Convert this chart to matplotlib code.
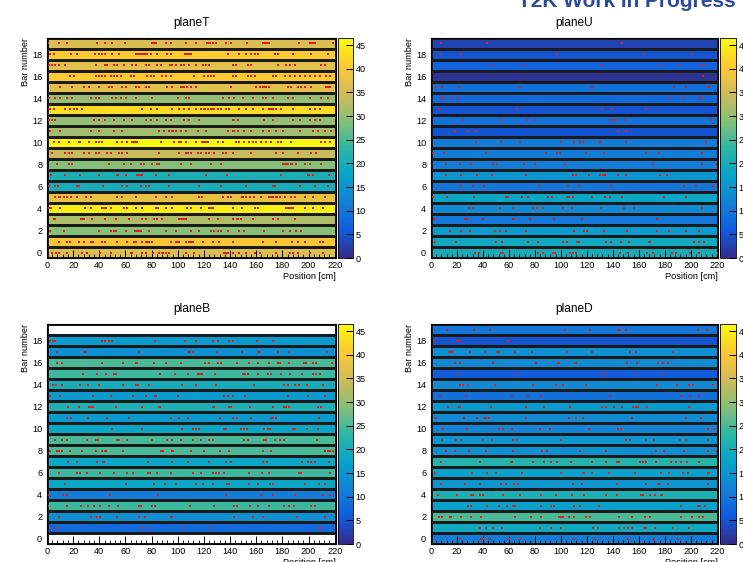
import numpy as np
import matplotlib
matplotlib.use("Agg")
import matplotlib.pyplot as plt
from matplotlib.colors import LinearSegmentedColormap, Normalize
from matplotlib.ticker import MultipleLocator

plt.rcParams['font.family'] = ['Liberation Sans', 'DejaVu Sans']

# ROOT "kBird" palette
stops = [0.0, 0.125, 0.25, 0.375, 0.5, 0.625, 0.75, 0.875, 1.0]
red = [0.2082, 0.0592, 0.0780, 0.0232, 0.1802, 0.5301, 0.8186, 0.9956, 0.9764]
green = [0.1664, 0.3599, 0.5041, 0.6419, 0.7178, 0.7492, 0.7328, 0.7862, 0.9832]
blue = [0.5293, 0.8684, 0.8385, 0.7914, 0.6425, 0.4662, 0.3499, 0.1968, 0.0539]
bird = LinearSegmentedColormap.from_list(
    "bird", [(s, (r, g, b)) for s, r, g, b in zip(stops, red, green, blue)])

n_bars = 20
x_max = 221.0
z_max = 46.5

# Hit positions [cm] per bar, bar 0 first
hits_T = [
    [3.8, 6.9, 9.5, 15.3, 26.9, 30.7, 40.9, 48.6, 63.9, 65.2, 72.9, 75.5, 81.1, 85.7, 88.3, 90.8, 93.4, 106.2, 112.6,
     135.6, 138.2, 142, 147.1, 152.2, 158.7, 162.5, 175.3, 185.5, 188.1, 191.9, 200.9, 211.2, 89, 137, 186, 65],
    [9, 15.3, 17.9, 24.3, 28.1, 33.3, 35.1, 41.7, 44.3, 53.7, 61.4, 66.5, 68.3, 72.9, 75.5, 78, 80.6, 94.7, 98.5, 101,
     106.2, 108.7, 111.3, 119, 126.6, 131.8, 142, 165, 175.3, 187.5, 191.9, 197.1, 208.6, 211.2, 34, 67, 77, 100, 110, 192],
    [2.6, 12.8, 39.7, 48.6, 51.2, 52.4, 60.1, 67.3, 69.1, 70.4, 71.6, 78, 90.8, 98.5, 110, 116.4, 125.4, 127.9, 130.5,
     133, 138.2, 147.1, 150.9, 166.3, 180.4, 185.5, 190.6, 194.4, 70],
    [5.1, 6.4, 26.3, 28.1, 34.5, 44.7, 52.4, 62.7, 72.9, 75.5, 81.9, 84.4, 88.3, 101, 103.6, 106.2, 124.1, 130.5, 142,
     145.1, 148.4, 157.4, 172.7, 176.6, 189.4, 27, 73, 102, 105, 146, 173, 6],
    [1.3, 3.3, 10.2, 28.9, 33.3, 42.2, 44.3, 45.3, 48.6, 58.8, 61.4, 67.8, 72.9, 83.1, 85.2, 90.8, 95.9, 107.4, 110,
     117.7, 123.6, 124.6, 126.6, 142, 149.1, 158.7, 161.2, 182.9, 184, 186, 188, 197.1, 203.4, 211,
     2, 43, 44, 84, 124, 125, 183, 185, 187, 43.5, 125.5],
    [5.9, 9, 12.8, 15.3, 18.7, 23, 29.9, 34, 53.7, 57, 67.8, 83.1, 90.8, 95.9, 115.9, 118.4, 134.3, 138.2, 140.7, 149.1,
     152.2, 155.2, 158.5, 163.7, 170.1, 172.7, 175.3, 177.8, 181.7, 186.8, 189.4, 197.1, 203.4, 212.3, 10, 171, 176, 150],
    [1.8, 5.9, 8.4, 23, 24.3, 42.7, 57.6, 61.4, 71.6, 75.5, 78, 93.4, 116.4, 133, 152.2, 173.2, 174.5, 193.2, 204.7, 214.9],
    [3.3, 14.1, 25.1, 39.7, 53.7, 60.1, 69.1, 70.4, 72.9, 83.1, 93.4, 121.5, 137.6, 179.1, 199.6, 203.4, 215.7,
     71, 70, 200, 54],
    [7.7, 16.6, 19.2, 47.3, 58.8, 63.9, 71.6, 74.2, 80.6, 84.4, 85.7, 102.3, 110, 125.4, 133, 180.4, 183, 186.8, 190.6,
     197, 200.9, 209.8, 17, 72, 85, 181, 184, 187, 201],
    [3.8, 14.1, 16.6, 19.2, 28.1, 32, 37.1, 39.6, 46, 48.6, 55, 57.6, 61.4, 85.7, 101, 106.2, 107.4, 110, 115.1, 117.7,
     121.5, 124.1, 127.9, 134.3, 136.9, 142, 156.1, 175.3, 180.4, 191.9, 202.1, 205.9, 17, 108],
    [5.1, 9, 16.6, 24.3, 25.6, 32, 37.1, 39.6, 42.2, 53.7, 57.6, 61.4, 65.2, 66.5, 67.8, 69.1, 87, 97.2, 101, 102.3,
     106.2, 113.8, 118.9, 120.2, 121.5, 122.8, 130.5, 134.3, 144.5, 147.1, 150.9, 154.8, 157.3, 159.9, 163.7, 167.6,
     171.4, 176.6, 179.1, 186.8, 209.8, 212.4, 216.2, 66, 121, 25],
    [2.6, 10.2, 33.3, 39.7, 51.2, 57.6, 85.7, 89.6, 93.4, 95.9, 98.5, 102.3, 106.2, 115.1, 121.5, 138.2, 142, 145.8,
     150.9, 156.1, 165, 170.1, 175.3, 180.4, 193.2, 203.4, 207.2, 212.3, 217.4, 96, 143],
    [1.3, 3.8, 6.4, 35.8, 39.7, 44.3, 51.2, 58.8, 65.2, 75.5, 79.3, 84.4, 90.8, 94.7, 104.9, 108.7, 116.4, 142, 145.8,
     166.3, 172.7, 188.1, 193.2, 200.9, 204.7, 208.6, 40, 105, 143, 201],
    [1.3, 2.6, 5.1, 14.1, 17.9, 20.5, 23, 26.9, 72.9, 79.3, 84.4, 95.9, 101, 104.9, 108.7, 113.8, 117.7, 120.2, 122.8,
     125.4, 127.9, 130.5, 133, 136.9, 139.4, 147.1, 152.3, 157.4, 165, 170.1, 172.7, 175.3, 179.1, 188.1, 200.9, 204.7,
     208.6, 2, 21, 121, 126, 171, 205],
    [1.3, 6.4, 10.2, 15.3, 19.2, 33.3, 37.1, 39.6, 49.9, 52.4, 56.3, 60.1, 67.8, 80.6, 99.8, 106.2, 108.7, 134.3,
     139.4, 143.3, 149.7, 157.3, 165, 167.6, 172.7, 184.2, 188, 200.9, 209.8, 214.9],
    [10.2, 19.2, 28.1, 32, 39.7, 47.3, 49.9, 57.6, 60.1, 67.8, 70.4, 75.5, 78, 92.1, 95.9, 102.3, 104.9, 107.4, 110,
     113.8, 140.7, 159.9, 162.5, 165, 167.6, 170.1, 184.2, 186.8, 191.9, 194.4, 197, 202.1, 213.6, 216.2, 103, 166, 215],
    [17.9, 20.5, 37.1, 39.6, 42.2, 44.7, 48.6, 51.2, 53.7, 56.3, 63.9, 66.5, 76.7, 79.3, 81.9, 88.3, 90.8, 94.7, 112.6,
     120.2, 122.8, 125.4, 127.9, 142, 144.6, 153.5, 156.1, 158.7, 172.7, 175.3, 181.7, 185.6, 189.4, 193.2, 197.1,
     200.9, 204.7, 208.6, 213.7, 216.3, 123],
    [1.3, 3.8, 6.4, 9, 14.1, 37.1, 44.3, 46, 51.2, 53.7, 58.8, 65.2, 67.8, 75.5, 78, 84.4, 87, 93.9, 95.9, 98.5, 102.3,
     104.9, 108.7, 113.8, 119, 124.1, 142, 144.6, 153.5, 156.1, 176.6, 183, 185.6, 189.4, 209.8, 212.4, 121.5],
    [2.6, 5.1, 18.7, 23, 37, 39.6, 42.2, 44.7, 49.9, 55, 67.8, 69, 70.4, 71.6, 72.9, 74.2, 75.5, 76.7, 79.3, 84.4,
     92.1, 94.7, 105.6, 107.4, 108.7, 110, 138.2, 147.1, 152.3, 156.1, 158.7, 161.2, 174, 176.6, 188.1, 202, 214.9,
     70, 73, 75, 108],
    [1, 9, 15, 38, 44, 50, 60, 80, 81, 82, 83, 91, 95, 106, 114, 122, 124, 125, 127, 129, 137, 141, 153, 165, 167, 170,
     193, 201, 203, 204, 205, 219, 81, 124, 168, 202],
]

hits_U = [
    [33.5, 37.1, 54, 55.8, 82.6, 86.5, 94.1, 95.4, 107.4, 109, 111.5, 145.8, 151.7, 166.5, 170.9, 185.7, 188.8, 199.8,
     206.7, 220.8],
    [3.3, 19.4, 49.9, 54.5, 74.4, 82.1, 101.3, 105.1, 112.8, 113.8, 135.1, 138.4, 146.1, 152.2, 167.8, 168.6, 202.9,
     206.2, 210.5],
    [14.3, 23, 29.7, 49.6, 53.5, 57.8, 72.9, 110, 117.7, 120.2, 133, 151.2, 174.2, 183.2, 196, 206.7],
    [2, 26.3, 28.1, 39.9, 62.9, 64.2, 76.2, 94.9, 115.9, 174],
    [28.9, 32.7, 53.2, 62.9, 78.8, 81.3, 86, 101.3, 108.7, 130.7, 148.4, 156.6, 208.7],
    [1.5, 12.3, 33.3, 57.8, 59.1, 70.3, 74.9, 89.8, 92.9, 105.1, 106.4, 109, 123.8, 134.3, 137.6, 146.8, 179.3, 196],
    [23, 32.7, 40.7, 83.4, 105.7, 113.8, 138.9, 195.2, 204.1, 216.9],
    [11.8, 23, 35.3, 46.8, 72.9, 109.5, 112, 121.5, 130.5, 132.5, 133.8, 144.1, 150.4, 176.5, 181.9],
    [11.5, 22.5, 30.7, 47.6, 51.2, 71.6, 80.1, 103.1, 170.9, 208.5, 219.5],
    [1.5, 9.7, 42.5, 88.5, 96.7, 99.3, 119.2, 133, 165.8, 175.5, 208.7],
    [34.5, 53.7, 68.6, 100, 110.3, 114.6, 116.7, 130, 131.2, 149.9, 211.8],
    [18.7, 28.4, 34.5, 144.3, 149.9],
    [24.8, 54, 73.7, 80.1, 138.1, 140.7, 142.2, 149.1, 215.9],
    [6.4, 66, 131.7, 139.7, 165.8],
    [7.9, 9.7, 15.6, 20.7, 184.4, 193.9, 207.2, 208.5],
    [3.8, 8.4, 21.7, 68.3, 124.1, 187, 196.7, 213.1, 214.4],
    [209.3],
    [47.3, 71.4, 131.2, 176, 191.9, 207.2, 210.5],
    [6.6, 23, 96.7, 163.7, 200.8],
    [7.7, 43, 147.1],
]

hits_B = [
    [],
    [5.1, 9, 71.6, 78.5, 105.6, 125.4, 208, 209.8],
    [9.5, 34, 38.4, 40.9, 53.7, 70.4, 75, 94.7, 95.9, 143.3, 157.4, 165, 191.4, 212.3],
    [0.8, 15.3, 26.3, 31.5, 35.8, 40.9, 47.3, 54.5, 70.4, 71.6, 80.1, 82.6, 109.2, 127.9, 143.3, 145, 155.3, 161.2,
     169.6, 181.6, 185, 188.6, 202.1, 204.7],
    [1.3, 12, 15.3, 48.1, 85.2, 136.9, 163.7, 172.7, 189.8, 211, 216.2],
    [0, 14.1, 60.1, 81.9, 90.3, 98.5, 113.8, 119.5, 126.6, 137.4, 138.9, 154.8, 161.2, 170.6, 172.7, 197, 208, 212.3],
    [9, 23, 25.6, 30.7, 40.2, 51.2, 61.4, 65.7, 77.5, 78.5, 84.4, 94.7, 111.8, 117.7, 127.1, 129.2, 131.2, 135.6,
     154.3, 164.5, 169.6, 192.6, 194.4, 216.7],
    [16.1, 23, 38.4, 42.7, 43.5, 77.5, 95.9, 108.2, 123.6, 136.9, 140.7, 165, 168.1, 195.2, 199.5, 202.1, 204.7, 215.7],
    [2.6, 7.7, 9, 11.5, 17.9, 26.9, 37.6, 42.2, 44.3, 45.3, 58.1, 87, 88.8, 95.4, 96.4, 110, 120.2, 132.3, 139.4,
     165.5, 171.4, 212.3, 214.9, 216.7, 218.7],
    [6.4, 11.5, 15.3, 30.7, 37.1, 39.1, 53.7, 55, 61.4, 80.6, 92.1, 95.9, 102.3, 111.3, 117.7, 124.1, 126.6, 150.9,
     153.5, 166.3, 167.6, 174, 178.3, 180.9, 206.4],
    [49.9, 72.9, 103.1, 111.8, 113.8, 115.9, 135.6, 136.9, 148.4, 150.9, 152.7, 166.3, 168.8, 170.6, 188, 189.3,
     198.8, 207.2],
    [15.3, 18.7, 31.5, 46, 62.7, 94.7, 101, 108.2, 132.3, 142, 145, 156, 171.4, 173.2, 175.3, 208],
    [0, 15.9, 24.3, 32, 34, 35, 52.4, 72.9, 85.7, 86.2, 126.6, 127.9, 139.4, 140.7, 155.3, 172.7, 181.6, 182.9, 185,
     207.2, 209.8],
    [2.6, 10.2, 35, 48.6, 65.7, 75.5, 82.6, 83.7, 99.8, 135.6, 138.2, 142.5, 151.7, 184.2, 199.5, 212.3],
    [4.3, 6.9, 11.5, 25.6, 31.5, 39.7, 58.1, 67.8, 69.8, 78, 103.1, 113.8, 129.2, 158.6, 181.6, 184.2, 189.3, 192.6,
     198.8, 211],
    [27.4, 38.4, 44.8, 51.2, 53, 86.2, 98, 108.2, 115.1, 116.9, 118.9, 128.7, 149.7, 151.7, 153.5, 161.2, 168.8,
     171.4, 178.6, 185.5, 195.2, 203.4, 205.9, 208.5],
    [7.7, 11.5, 41.7, 58.1, 67.8, 69.1, 81.9, 90.8, 102.3, 121, 123.6, 130.5, 133, 145, 154.8, 161.2, 169.6, 176.5,
     178.3, 185, 196.2, 197.7, 203.4, 205.9, 218.2],
    [7.7, 28.1, 29.9, 70.4, 108, 109.2, 111.3, 130, 149.1, 161.2, 162.5, 176.5, 185, 214.1],
    [2.6, 4.3, 6.4, 42.2, 44.3, 47.3, 49.9, 82.6, 105.6, 113.8, 126.6, 130.5, 139.4, 142, 160.4, 173.2],
    [],
]

hits_D = [
    [22.5, 38.4, 40.4, 45.5, 60.4, 68.6, 110.3, 126.1, 151.7, 171.4, 190.1],
    [36.6, 37.9, 42.5, 47.6, 54.5, 83.9, 92.1, 100, 124.8, 128.7, 144.8, 148.4, 151.7, 155, 163.7, 165.8, 172.7,
     186.7, 198.5],
    [5.9, 8.4, 14.3, 15.6, 23, 30.7, 38.4, 64.7, 77, 84.4, 98.5, 100, 101.8, 106.4, 110, 119.7, 122.8, 144.5, 155,
     164.5, 168.8, 192.6, 200.8, 206.2, 209.3],
    [28.4, 30.7, 43.5, 52.4, 58.3, 62.9, 64.7, 84.7, 92.1, 94.7, 110, 114.6, 129.4, 192.6, 205.4, 207.2, 211.3],
    [5.1, 20, 31, 37.4, 40.4, 55.8, 68.6, 84.7, 95.9, 108.2, 118, 134.6, 143.5, 161.9, 163.2, 168.3, 172.2, 176.8,
     178, 32, 96],
    [7.7, 26.3, 37.9, 53.7, 57.8, 64, 67.3, 109, 115.9, 143.5, 165.8, 174.7, 176, 182.4, 213.6],
    [3.3, 31.5, 43, 49.9, 70.3, 99.8, 116.7, 117.7, 124.3, 136.9, 156.8, 176.8, 183.2, 193.9, 197.7, 213.1, 214.4],
    [7.7, 37.9, 61.7, 62.7, 78.8, 87, 92.4, 96.7, 107.7, 124.3, 134.6, 143.3, 144.5, 161.2, 163.2, 165.8, 172.9, 185,
     188.3, 192.6, 197.2, 206.7],
    [11.5, 18.2, 28.9, 42.5, 63.4, 85.2, 89.5, 115.1, 134.6, 172.9, 179.1, 194.7, 213.1, 219.5],
    [8.4, 19.4, 23.3, 40.4, 46.8, 62.9, 66, 100, 149.9, 153.5, 165.3, 171.4, 191.9, 196.5, 213.1],
    [9.2, 28.1, 52.7, 55.8, 62.2, 83.9, 91.6, 121.8, 143.8, 146.3, 213.1, 218.2],
    [4.1, 25.1, 35.8, 40.9, 42.5, 44.3, 73.2, 106.2, 111.5, 116.7, 155, 196.5, 208.2],
    [12.8, 21.2, 22.5, 46.3, 72.9, 87, 107.4, 132, 135.1, 140.7, 147.3, 155.5, 157.6, 159.4, 166, 199],
    [7.2, 26.9, 62.7, 75, 84.4, 137.6, 192.6, 199.8, 206.2],
    [22.5, 24.6, 28.4, 48.9, 78.8, 96.2, 101.8, 119.2, 174, 189.6, 199, 201.6, 216.9],
    [20.5, 66.5, 131.2, 135.1, 156.8, 178],
    [18.2, 22, 47.6, 80.8, 97.5, 98.5, 110.8, 112, 151.2, 158.9, 174.7, 178.6, 182.4],
    [13.6, 15.3, 16.9, 29.7, 41.7, 51.2, 52.7, 64.7, 77.5, 104.9, 124.1, 153, 157.6, 186.7],
    [2.8, 20, 22, 59.6, 60.4],
    [12.3, 33.3, 45.5, 103.1, 122.3, 144, 145.3, 150.4, 205.4, 212.6],
]

plane_names = ["planeT", "planeU", "planeB", "planeD"]
plane_hits = [hits_T, hits_U, hits_B, hits_D]

W, H = 743, 562
fig = plt.figure(figsize=(W / 100, H / 100), dpi=100)


def fx(px):
    return px / W


def fy(py):
    return 1 - py / H


# pixel boxes (left, top, right, bottom) for each histogram frame and its palette
frames = [(47, 38, 336, 258), (431, 38, 718, 258), (47, 324, 336, 544), (431, 324, 718, 544)]
palettes = [(338, 353), (720, 736), (338, 353), (720, 736)]

norm = Normalize(vmin=0, vmax=z_max)
tick_fs = 6.6

for name, hits, (l, t, r, b), (cl, cr) in zip(plane_names, plane_hits, frames, palettes):
    ax = fig.add_axes([fx(l), fy(b), fx(r - l), (b - t) / H])
    counts = np.array([len(h) for h in hits], dtype=float)
    grid = np.ma.masked_equal(counts[:, None], 0)
    x_edges = [0, x_max]
    y_edges = np.arange(n_bars + 1) - 0.5
    cmap = bird.copy()
    cmap.set_bad("white")
    mesh = ax.pcolormesh(x_edges, y_edges, grid, cmap=cmap, norm=norm,
                         edgecolors="#1a1a1a", linewidth=0.9)
    xs = np.concatenate([np.asarray(h, dtype=float) for h in hits if len(h)])
    ys = np.concatenate([np.full(len(h), i, dtype=float) for i, h in enumerate(hits) if len(h)])
    ax.plot(xs, ys, linestyle="none", marker="s", markersize=1.6,
            markeredgewidth=0, color="#d42222")

    ax.set_xlim(0, x_max)
    ax.set_ylim(-0.5, n_bars - 0.5)
    ax.xaxis.set_major_locator(MultipleLocator(20))
    ax.xaxis.set_minor_locator(MultipleLocator(4))
    ax.yaxis.set_major_locator(MultipleLocator(2))
    ax.tick_params(axis="x", which="major", direction="in", length=6, width=0.7,
                   labelsize=tick_fs, pad=2.5, top=False)
    ax.tick_params(axis="x", which="minor", direction="in", length=3, width=0.6, top=False)
    ax.tick_params(axis="y", which="both", length=0, labelsize=tick_fs, pad=3.5)
    for sp in ax.spines.values():
        sp.set_linewidth(0.8)

    ax.set_title(name, fontsize=8.6, pad=8.5)
    ax.set_xlabel("Position [cm]", fontsize=tick_fs, loc="right", labelpad=1)
    ax.set_ylabel("Bar number", fontsize=tick_fs, loc="top", labelpad=1.5)

    cax = fig.add_axes([fx(cl), fy(b), fx(cr - cl), (b - t) / H])
    cb = fig.colorbar(mesh, cax=cax)
    cb.set_ticks(np.arange(0, 46, 5))
    cb.outline.set_linewidth(0.6)
    cax.tick_params(direction="in", length=5, width=0.7, labelsize=tick_fs, pad=2,
                    right=True, left=False)
    cax.yaxis.set_ticks_position("right")
    cax.minorticks_off()

fig.text(fx(736), fy(7), "T2K Work In Progress", ha="right", va="baseline",
         fontsize=15, fontweight="bold", color="#2b4a9e")

fig.savefig("out.png", dpi=100)
